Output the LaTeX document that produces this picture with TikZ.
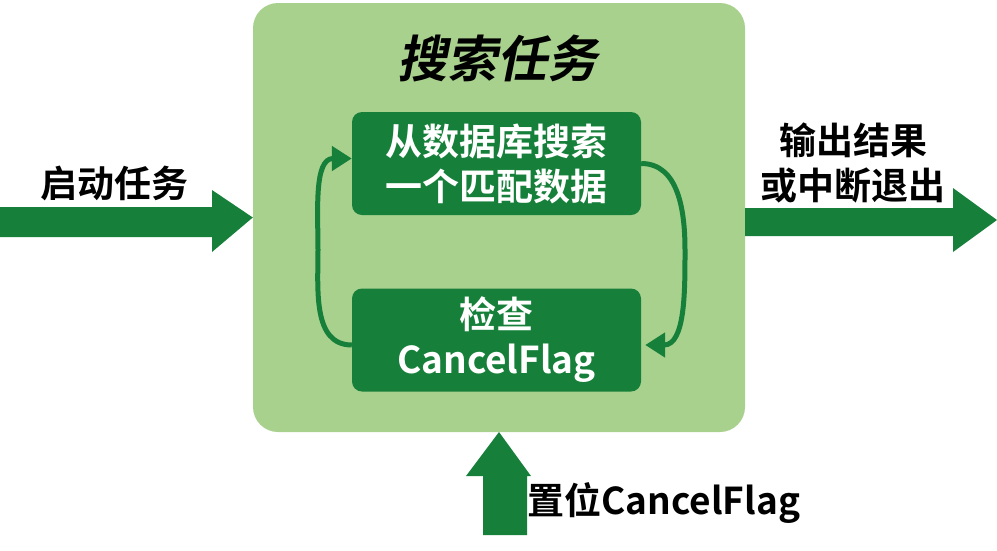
\documentclass[tikz,border=0pt]{standalone}
\usepackage{fontspec}
\setmainfont{Noto Sans CJK SC}[BoldFont={Noto Sans CJK SC Bold}]
\newfontfamily\titlefont{Noto Sans CJK SC Bold}[FakeSlant=0.2]
\usetikzlibrary{arrows.meta}
\definecolor{lg}{RGB}{169,209,142}
\definecolor{dg}{RGB}{22,128,58}
\tikzset{
  inbox/.style={fill=dg,rounded corners=10pt,minimum width=289pt,minimum height=103pt,text=white,font=\bfseries\fontsize{37}{45}\selectfont,align=center,inner sep=0pt},
  lbl/.style={font=\bfseries\fontsize{37}{45}\selectfont,align=center,text=black},
  loop/.style={draw=dg,line width=5pt,-{Triangle[length=20pt,width=24pt]}}
}
\begin{document}
\begin{tikzpicture}[x=1pt,y=-1pt]
\useasboundingbox (0,0) rectangle (997,550);
\node[fill=lg,rounded corners=25pt,minimum width=492pt,minimum height=429pt,inner sep=0pt] (big) at (499,217.5) {};
\node[font=\titlefont\fontsize{50}{54}\selectfont] (title) at (497,58) {搜索任务};
\node[inbox] (top) at (496.5,163.5) {从数据库搜索\\一个匹配数据};
\node[inbox] (bot) at (496.5,340) {检查\\CancelFlag};
\draw[loop] (bot.west) ++(0,5) to[out=180,in=-90] (318,250) to[out=90,in=180] ([yshift=5]top.west);
\draw[loop] (top.east) to[out=0,in=90] (685,250) to[out=-90,in=0] ([xshift=4,yshift=-5]bot.east);
% left block arrow
\fill[dg] (0,207) -- (212,207) -- (212,190) -- (big.west) -- (212,252) -- (212,237) -- (0,237) -- cycle;
\node[lbl] (l1) at (115,183) {启动任务};
% right block arrow
\fill[dg] (big.east|-0,208) -- (953,208) -- (953,188) -- (997,220) -- (953,252) -- (953,236) -- (big.east|-0,236) -- cycle;
\node[lbl] (l2) at (853,163) {输出结果\\或中断退出};
% bottom block arrow
\fill[dg] (483,535) -- (483,476) -- (466,476) -- (499,432) -- (531,476) -- (527,476) -- (527,535) -- cycle;
\node[lbl,anchor=west] (l3) at (524,503) {置位CancelFlag};
\end{tikzpicture}
\end{document}
